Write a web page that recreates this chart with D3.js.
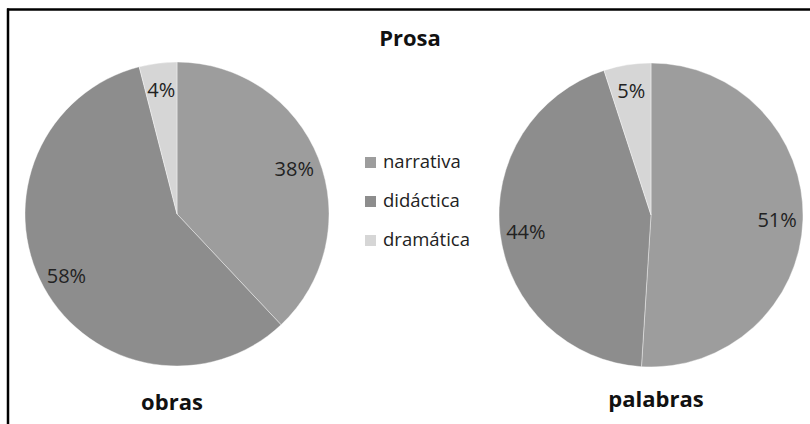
<!DOCTYPE html>
<html>
<head>
<meta charset="utf-8">
<script src="https://cdn.jsdelivr.net/npm/d3@7"></script>
<style>
  body { margin: 0; background: #fff; }
  svg { display: block; font-family: 'Open Sans', sans-serif; }
</style>
</head>
<body>
<div id="chart"></div>
<script>
var categories = ['narrativa', 'didáctica', 'dramática'];
var colors = ['#9d9d9d', '#8d8d8d', '#d6d6d6'];
var obrasValues = [38, 58, 4];
var palabrasValues = [51, 44, 5];
var pieTitles = ['obras', 'palabras'];

var width = 810, height = 424;
var svg = d3.select('#chart').append('svg')
  .attr('width', width)
  .attr('height', height);

// frame (only top and left edges are visible in the crop)
svg.append('line')
  .attr('x1', 8).attr('x2', 8).attr('y1', 8.5).attr('y2', height)
  .attr('stroke', '#000').attr('stroke-width', 2.5);
svg.append('line')
  .attr('x1', 7).attr('x2', width).attr('y1', 9.5).attr('y2', 9.5)
  .attr('stroke', '#000').attr('stroke-width', 2.5);

svg.append('text')
  .text('Prosa')
  .attr('x', 410)
  .attr('y', 46)
  .attr('text-anchor', 'middle')
  .attr('font-size', 22)
  .attr('font-weight', 'bold')
  .attr('fill', '#111');

var color = d3.scaleOrdinal().domain(categories).range(colors);
var radius = 152;
var pie = d3.pie().sort(null).value(function (d) { return d.value; });
var arc = d3.arc().innerRadius(0).outerRadius(radius);
var labelArc = d3.arc().innerRadius(radius * 0.83).outerRadius(radius * 0.83);

var pies = [
  { title: pieTitles[0], values: obrasValues, cx: 177, cy: 214, titleX: 172, titleY: 410 },
  { title: pieTitles[1], values: palabrasValues, cx: 651, cy: 215, titleX: 656, titleY: 407 }
];

pies.forEach(function (p) {
  var data = categories.map(function (c, i) {
    return { name: c, value: p.values[i] };
  });
  var g = svg.append('g')
    .attr('transform', 'translate(' + p.cx + ',' + p.cy + ')');

  g.selectAll('path')
    .data(pie(data)).enter()
    .append('path')
    .attr('d', arc)
    .attr('fill', function (d) { return color(d.data.name); })
    .attr('stroke', '#fff')
    .attr('stroke-width', 0.4);

  g.selectAll('text')
    .data(pie(data)).enter()
    .append('text')
    .attr('transform', function (d) { return 'translate(' + labelArc.centroid(d) + ')'; })
    .attr('dy', '0.4em')
    .attr('text-anchor', 'middle')
    .attr('font-size', 20)
    .attr('fill', '#222')
    .text(function (d) { return d.data.value + '%'; });

  svg.append('text')
    .text(p.title)
    .attr('x', p.titleX)
    .attr('y', p.titleY)
    .attr('text-anchor', 'middle')
    .attr('font-size', 22)
    .attr('font-weight', 'bold')
    .attr('fill', '#111');
});

var legend = svg.append('g');
var row = legend.selectAll('g')
  .data(categories).enter()
  .append('g')
  .attr('transform', function (d, i) { return 'translate(365,' + (162 + i * 39) + ')'; });
row.append('rect')
  .attr('x', 0).attr('y', -5)
  .attr('width', 11).attr('height', 11)
  .attr('fill', function (d) { return color(d); });
row.append('text')
  .attr('x', 18)
  .attr('dy', '0.35em')
  .attr('font-size', 18.5)
  .attr('fill', '#222')
  .text(function (d) { return d; });
</script>
</body>
</html>
